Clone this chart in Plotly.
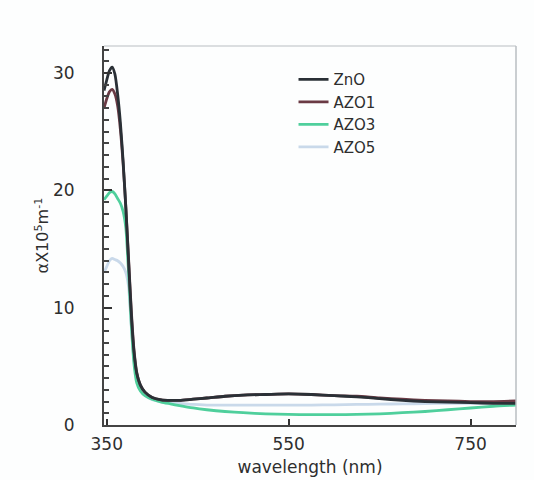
import plotly.graph_objects as go

wavelength = [347, 350, 353, 356, 359, 362, 365, 368, 371, 374, 377, 380, 383, 387,
              392, 400, 410, 420, 430, 445, 460, 480, 500, 525, 550, 575, 600, 625, 650, 675,
              700, 725, 750, 775, 800]

zno = [28.5, 29.4, 30.2, 30.5, 29.9, 28.2, 25.8, 22.5, 18.5, 14.0, 9.5, 6.2, 4.4, 3.4,
       2.8, 2.35, 2.15, 2.1, 2.1, 2.2, 2.3, 2.45, 2.55, 2.6, 2.65, 2.6, 2.5, 2.4, 2.25, 2.1,
       2.0, 1.95, 1.9, 1.85, 1.85]

azo1 = [27.0, 27.8, 28.4, 28.6, 28.2, 27.2, 25.2, 22.3, 18.6, 14.2, 9.8, 6.4, 4.5, 3.4,
        2.8, 2.35, 2.15, 2.1, 2.1, 2.2, 2.3, 2.45, 2.55, 2.6, 2.65, 2.6, 2.5, 2.45, 2.3, 2.2,
        2.1, 2.05, 2.0, 2.0, 2.05]

azo3 = [19.2, 19.5, 19.8, 19.9, 19.7, 19.3, 18.9, 18.2, 16.8, 13.0, 8.6, 5.2, 3.6, 2.9,
        2.5, 2.2, 1.95, 1.8, 1.65, 1.45, 1.3, 1.15, 1.05, 0.95, 0.9, 0.88, 0.88, 0.9, 0.95, 1.05,
        1.15, 1.3, 1.45, 1.6, 1.7]

azo5 = [13.0, 13.5, 14.0, 14.2, 14.1, 14.0, 13.8, 13.5, 13.0, 11.8, 8.4, 5.6, 4.0, 3.1,
        2.55, 2.15, 2.0, 1.9, 1.85, 1.75, 1.7, 1.7, 1.7, 1.7, 1.7, 1.7, 1.72, 1.75, 1.78, 1.8,
        1.82, 1.85, 1.85, 1.85, 1.85]

series = [
    ("ZnO", zno, "#2a3036"),
    ("AZO1", azo1, "#6a3a44"),
    ("AZO3", azo3, "#4fcf9c"),
    ("AZO5", azo5, "#c9d9ea"),
]

x_ticks = [350, 550, 750]
y_ticks = [0, 10, 20, 30]

fig = go.Figure()
for name, vals, color in reversed(series):
    fig.add_trace(go.Scatter(x=wavelength, y=vals, mode="lines", name=name,
                             line=dict(color=color, width=2.8, shape="spline", smoothing=0.6)))

font = "DejaVu Sans, Verdana, sans-serif"
fig.update_layout(
    width=534, height=480,
    margin=dict(l=104, r=18, t=46, b=55),
    paper_bgcolor="#fdfefe", plot_bgcolor="#fdfefe",
    font=dict(family=font, color="#2e2e2e", size=16),
    showlegend=True,
    legend=dict(x=0.46, y=0.955, xanchor="left", yanchor="top", traceorder="reversed",
                bgcolor="rgba(0,0,0,0)", font=dict(size=15, color="#2e2e2e"),
                itemwidth=30, tracegroupgap=0),
    xaxis=dict(range=[347, 800], tickvals=x_ticks, ticktext=[str(v) for v in x_ticks],
               ticks="inside", ticklen=6, tickwidth=2, tickcolor="#333333",
               showline=True, linecolor="#444444", linewidth=2, showgrid=False, zeroline=False,
               tickfont=dict(size=17), automargin=False,
               title=dict(text="wavelength (nm)", font=dict(size=17), standoff=8),
               ticklabelstandoff=3),
    yaxis=dict(range=[0, 32.3], tickvals=y_ticks, ticktext=[str(v) for v in y_ticks],
               ticks="inside", ticklen=8, tickwidth=2, tickcolor="#333333",
               minor=dict(dtick=1, ticks="inside", ticklen=5, tickwidth=1.5, tickcolor="#444444"),
               showline=True, linecolor="#444444", linewidth=2, showgrid=False, zeroline=False,
               tickfont=dict(size=17), automargin=False,
               title=dict(text="αX10<sup>5</sup>m<sup>-1</sup>", font=dict(size=16), standoff=0),
               ticklabelstandoff=24),
    shapes=[
        dict(type="line", xref="paper", yref="paper", x0=0, x1=1, y0=1, y1=1,
             line=dict(color="#cfd3d6", width=1.5)),
        dict(type="line", xref="paper", yref="paper", x0=1, x1=1, y0=0, y1=1,
             line=dict(color="#b9bec2", width=1.5)),
    ],
)

fig.write_html("out.html")
